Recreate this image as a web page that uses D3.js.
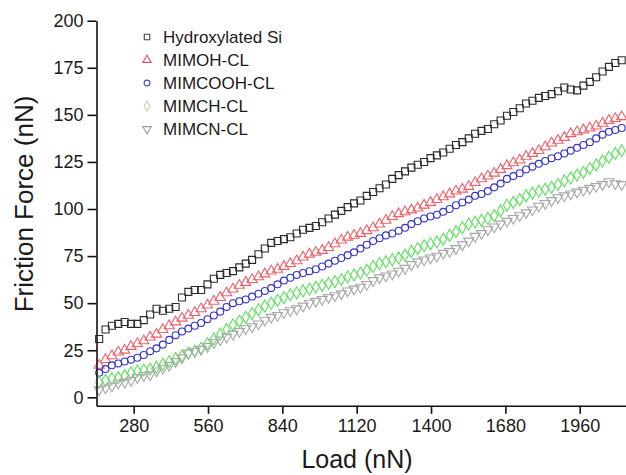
<!DOCTYPE html>
<html>
<head>
<meta charset="utf-8">
<script src="https://cdn.jsdelivr.net/npm/d3@7"></script>
<style>
  body { margin: 0; background: #fff; }
  svg { display: block; font-family: Arial, "Liberation Sans", sans-serif; }
</style>
</head>
<body>
<svg id="chart" width="626" height="475"></svg>
<script>
// ---------------- DATA ----------------
const loads = [150,174,198,222,246,270,294,318,342,366,390,414,438,462,486,510,534,558,582,606,
  630,654,678,702,726,750,774,798,822,846,870,894,918,942,966,990,1014,1038,1062,1086,
  1110,1134,1158,1182,1206,1230,1254,1278,1302,1326,1350,1374,1398,1422,1446,1470,1494,1518,1542,1566,
  1590,1614,1638,1662,1686,1710,1734,1758,1782,1806,1830,1854,1878,1902,1926,1950,1974,1998,2022,2046,
  2070,2094,2118];

const hydroxylatedSi = [31,36,38,39,40,39,39,41,44,47,46,47,48,53,56,57,57,60,63,65,
  66,67,69,71,73,76,79,82,83,84,85,87,89,90,91,93,95,97,99,101,
  103,104.5,107,109,111,113,116,118,120,122,123.5,125,127,128.5,130,132,134,135.5,137.5,140,
  141.5,142.5,145,147,149.5,151.5,153.5,156,157.5,159,160,161,162.5,164.5,163.5,163,165.5,167.5,170,173,
  175.5,177.5,179];

const mimohCL = [17,20,22,24,25,27,28.5,30,32,33.5,36,38,40,42,43.5,45,47,49,51,53,
  55.5,57.5,59.5,61,62.5,64,65.5,67,68,69.5,71,72.5,74.5,76,77,78,79.5,81.5,83.5,85,
  86,87,88.5,90,92,94,96,97.5,98.5,99.5,100.5,102,103.5,105,106.5,108,109.5,110.5,112,114,
  116,117.5,119,121,123,124.5,126,128,129.5,131,133,135,136.5,138,140,141,142,143,144,145.5,
  147,148,149];

const mimcoohCL = [13,15,17,18,19,20,21,22.5,24.5,26,28,30.5,33,35,36.5,38,39.5,41.5,43.5,45.5,
  48,50,51,52,53.5,55,56.5,58,60,62,63.5,65,66,67,68,69.5,71,72.5,74,75.5,
  77,79,81,83,84.5,86,87,88.5,90,92,93.5,95,96,97,98.5,100,102,103.5,105,107,
  108,109.5,111.5,113.5,116,117.5,119,121,122.5,124,125.5,127,128,129.5,131,132.5,134,135.5,137.5,139.5,
  141,142,143];

const mimchCL = [8,9,10,10.5,11.5,13,14,14.5,15,16,17.5,19,20.5,22,23.5,24.5,26,28.5,31,33.5,
  36,38.5,40.5,42.5,44.5,46.5,48.5,50,51.5,53,54.5,55.5,56.5,57.5,58.5,59.5,60.5,61.5,62.5,64,
  65,66,67.5,69.5,71,72,73,74,75.5,77.5,79,80.5,81.5,82.5,84,86,88,90,92,93,
  94,95,96.5,99,102,103.5,105,107,108.5,109.5,110.5,111.5,113,115,116.5,118,119.5,121.5,123.5,125.5,
  127.5,129.5,131];

const mimcnCL = [4,5,6,7.5,8,9,10.5,11.5,12,14,15.5,17,19,21,23.5,24.5,25.5,27,29,30.5,
  32,33.5,35,36.5,37.5,39,41,42.5,43.5,45,46,47,48.5,50,51,52,53,54,55,56.5,
  57.5,58.5,60,62,63.5,64.5,65.5,67,68.5,70.5,72,73,74,75,76.5,77.5,79,81,83,85.5,
  87,89,90.5,92,93.5,95,96.5,98,99.5,101.5,103,104.5,106,107,108,109,110,111,112,113,
  114.5,113.5,113];

const seriesNames = ["Hydroxylated Si", "MIMOH-CL", "MIMCOOH-CL", "MIMCH-CL", "MIMCN-CL"];
const seriesValues = [hydroxylatedSi, mimohCL, mimcoohCL, mimchCL, mimcnCL];
const xTicks = [280, 560, 840, 1120, 1400, 1680, 1960];
const yTicks = [0, 25, 50, 75, 100, 125, 150, 175, 200];

// ---------------- STYLE ----------------
const colors = ["#2a2a2a", "#f06068", "#3434cc", "#5ee05e", "#a8a8a8"];
const legendColors = ["#444", "#e0506a", "#5050b8", "#cfcfae", "#9a9a9a"];
const shapes = [d3.symbolSquare, d3.symbolTriangle, d3.symbolCircle, d3.symbolDiamond, d3.symbolTriangle];
const sizes = [49, 44, 38, 42, 44];
const legendSizes = [30, 30, 26, 30, 30];
const rotations = [0, 0, 0, 0, 180];

const svg = d3.select("#chart");
const x = d3.scaleLinear().domain([140, 2140]).range([96.5, 627.5]);
const y = d3.scaleLinear().domain([-4.5, 200]).range([405.8, 20.7]);

// series
seriesValues.forEach((vals, si) => {
  const g = svg.append("g");
  const sym = d3.symbol().type(shapes[si]).size(sizes[si]);
  g.selectAll("path")
    .data(vals.map((v, i) => ({ load: loads[i], v })))
    .join("path")
    .attr("d", sym)
    .attr("transform", d => `translate(${x(d.load)},${y(d.v)}) rotate(${rotations[si]})`)
    .attr("fill", "none")
    .attr("stroke", colors[si])
    .attr("stroke-width", 1.1);
});

// axes
const xAxis = d3.axisBottom(x).tickValues(xTicks).tickSize(8).tickSizeOuter(0).tickPadding(5).tickFormat(d3.format("d"));
const yAxis = d3.axisLeft(y).tickValues(yTicks).tickSize(9).tickSizeOuter(0).tickPadding(4).tickFormat(d3.format("d"));

const gx = svg.append("g").attr("transform", `translate(0,${y(-4.5)})`).call(xAxis);
const gy = svg.append("g").attr("transform", `translate(${x(140)},0)`).call(yAxis);
[gx, gy].forEach(g => {
  g.selectAll("path, line").attr("stroke", "#111").attr("stroke-width", 1.6);
  g.selectAll("text").attr("font-size", 18).attr("fill", "#1a1a1a")
    .attr("font-family", "Arial, 'Liberation Sans', sans-serif");
});

// axis titles
svg.append("text")
  .attr("x", 357).attr("y", 468)
  .attr("text-anchor", "middle")
  .attr("font-size", 25)
  .attr("fill", "#1a1a1a")
  .text("Load (nN)");

svg.append("text")
  .attr("transform", "translate(33,204) rotate(-90)")
  .attr("text-anchor", "middle")
  .attr("font-size", 26)
  .attr("fill", "#1a1a1a")
  .text("Friction Force (nN)");

// legend
const lg = svg.append("g");
seriesNames.forEach((name, i) => {
  const yy = 37 + i * 23;
  lg.append("path")
    .attr("d", d3.symbol().type(shapes[i]).size(legendSizes[i])())
    .attr("transform", `translate(147,${yy}) rotate(${rotations[i]})`)
    .attr("fill", "none")
    .attr("stroke", legendColors[i])
    .attr("stroke-width", 1.1);
  lg.append("text")
    .attr("x", 163).attr("y", yy + 6)
    .attr("font-size", 17)
    .attr("fill", "#1a1a1a")
    .text(name);
});
</script>
</body>
</html>
